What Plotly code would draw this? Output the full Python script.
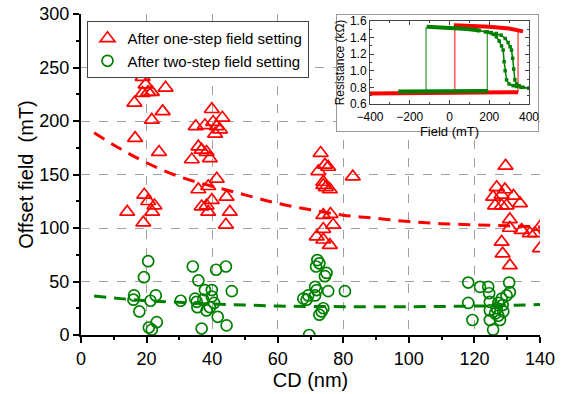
import plotly.graph_objects as go

# ---------------- main data ----------------
red_cd = [18.2, 18.8, 19.7, 18.8, 20.5, 21.6, 25.8, 16.3, 24.9, 21.6, 16.5, 23.8, 19.3, 20.5, 22.4, 14.1, 21.7, 19.0,
          39.9, 43.1, 35.0, 37.8, 40.3, 41.4, 42.4, 40.9, 35.8, 36.8, 38.3, 39.3, 33.8, 41.4, 38.8, 35.8, 44.4, 39.9,
          38.3, 36.8, 38.8, 45.4, 44.2,
          73.1, 74.4, 75.4, 72.4, 73.9, 73.9, 74.7, 75.9, 82.9, 73.9, 76.1, 76.9, 73.9, 71.9, 73.9, 75.9,
          129.5, 126.8, 129.3, 125.7, 128.3, 131.9, 126.3, 128.3, 129.8, 133.9, 130.8, 130.8, 134.4, 136.9, 138.5,
          128.3, 128.6, 130.8, 140.0, 140.0]
red_val = [244, 241, 234, 226, 227, 227, 231, 217, 209, 201, 184, 171, 131, 125, 121, 115, 115, 105,
           211, 203, 195, 196, 199, 195, 192, 188, 176, 173, 171, 165, 164, 146, 139, 136, 129, 126,
           121, 120, 115, 115, 103,
           170, 159, 157, 153, 143, 140, 138, 136, 148, 112, 113, 103, 99, 92, 89, 84,
           158, 138, 136, 129, 131, 130, 121, 121, 121, 123, 108, 100, 98, 95, 95,
           87, 76, 65, 101, 81]

green_cd = [20.5, 19.2, 16.2, 16.0, 22.8, 21.2, 17.8, 23.1, 20.7, 21.6,
            30.4, 34.1, 41.2, 44.2, 35.8, 37.8, 39.9, 34.8, 35.3, 37.3, 39.9, 40.6, 35.5, 38.3, 39.3, 46.0, 41.7, 44.4, 36.8,
            72.1, 72.7, 71.7, 74.9, 74.4, 71.4, 71.9, 75.4, 80.5, 69.3, 67.8, 68.8, 71.4, 73.9, 73.4, 72.7, 69.6,
            118.1, 118.1, 119.4, 121.7, 124.2, 124.5, 130.6, 130.8, 129.8, 128.3, 127.3, 124.7, 128.6, 126.8, 124.7,
            128.8, 127.3, 127.8, 124.7, 125.7, 126.3]
green_val = [69, 54, 37, 33, 37, 32, 22, 12, 7, 5,
             32, 64, 61, 64, 51, 42, 42, 34, 31, 33, 36, 30, 26, 23, 26, 41, 17, 9, 6,
             70, 67, 64, 58, 55, 45, 42, 41, 41, 37, 34, 33, 37, 25, 22, 19, 0,
             49, 30, 14, 45, 45, 39, 49, 40, 37, 34, 30, 31, 28, 25, 23,
             22, 18, 14, 14, 5, 20]

# fit curves
fit_cd = [4, 12, 20, 30, 40, 50, 60, 70, 80, 90, 100, 110, 120, 130, 140]
fit_red = [189, 174, 161, 148, 139, 131, 123, 117, 112, 109, 106, 104, 103, 102, 101]
fit_green = [36.5, 34, 32, 30.5, 29, 28, 27, 26.7, 26.5, 26.5, 26.5, 26.7, 27, 27.7, 28.5]

# ---------------- inset data ----------------
red_low_f = [-400, 0, 345]
red_low_r = [0.725, 0.73, 0.74]
red_high_f = [22, 100, 200, 300, 370]
red_high_r = [1.55, 1.545, 1.53, 1.51, 1.475]
red_jump_a_f = [27, 27]
red_jump_a_r = [0.75, 1.55]
red_jump_b_f = [345, 345]
red_jump_b_r = [0.74, 1.49]

green_low_f = [-258, 195]
green_low_r = [0.75, 0.755]
green_jump_a_f = [-118, -118]
green_jump_a_r = [0.75, 1.53]
green_jump_b_f = [190, 190]
green_jump_b_r = [0.755, 1.47]
green_top_f = [-115, -50, 0, 50, 100, 150]
green_top_r = [1.53, 1.525, 1.52, 1.51, 1.50, 1.485]
green_br1_f = [190, 205, 220, 236, 250, 262, 270, 275, 280, 287, 300, 320, 337, 360, 400]
green_br1_r = [1.47, 1.46, 1.44, 1.41, 1.36, 1.30, 1.25, 1.11, 1.00, 0.89, 0.84, 0.82, 0.81, 0.80, 0.79]
green_br2_f = [150, 180, 210, 236, 260, 280, 295, 305, 312, 318, 323, 329, 337, 350, 370, 400]
green_br2_r = [1.485, 1.47, 1.46, 1.45, 1.43, 1.39, 1.34, 1.29, 1.25, 1.15, 1.02, 0.89, 0.84, 0.82, 0.80, 0.79]

RED = "#ff0000"
GREEN = "#008000"
FONT = "Arial, 'Liberation Sans', sans-serif"

fig = go.Figure()

# main fits
fig.add_trace(go.Scatter(x=fit_cd, y=fit_red, mode="lines", line=dict(color=RED, width=3, dash="12px,8px", shape="spline"),
                         showlegend=False, hoverinfo="skip"))
fig.add_trace(go.Scatter(x=fit_cd, y=fit_green, mode="lines", line=dict(color=GREEN, width=3, dash="12px,8px", shape="spline"),
                         showlegend=False, hoverinfo="skip"))

# main scatter
fig.add_trace(go.Scatter(x=red_cd, y=red_val, mode="markers", name="After one-step field setting",
                         marker=dict(symbol="triangle-up-open", size=13, color=RED, line=dict(width=1.7, color=RED))))
fig.add_trace(go.Scatter(x=green_cd, y=green_val, mode="markers", name="After two-step field setting",
                         marker=dict(symbol="circle-open", size=11, color=GREEN, line=dict(width=1.7, color=GREEN))))

# inset traces
def inset(x, y, color, width, markers=False):
    fig.add_trace(go.Scatter(x=x, y=y, xaxis="x3", yaxis="y3", showlegend=False, hoverinfo="skip",
                             mode="lines+markers" if markers else "lines",
                             line=dict(color=color, width=width),
                             marker=dict(symbol="square", size=3.5, color=color)))

inset(red_jump_a_f, red_jump_a_r, RED, 1)
inset(red_jump_b_f, red_jump_b_r, RED, 1)
inset(green_jump_a_f, green_jump_a_r, GREEN, 1)
inset(green_jump_b_f, green_jump_b_r, GREEN, 1)
inset(red_low_f, red_low_r, RED, 4)
inset(red_high_f, red_high_r, RED, 4)
inset(green_low_f, green_low_r, GREEN, 4)
inset(green_top_f, green_top_r, GREEN, 4)
inset(green_br1_f, green_br1_r, GREEN, 1.5, markers=True)
inset(green_br2_f, green_br2_r, GREEN, 1.5, markers=True)

main_axis = dict(showline=True, linecolor="black", linewidth=2, ticks="outside", ticklen=6, tickwidth=1.5,
                 tickcolor="black", showgrid=True, gridcolor="#a0a0a0", griddash="dash", gridwidth=1,
                 zeroline=False, automargin=False, ticklabeloverflow="allow",
                 tickfont=dict(size=18, color="black", family=FONT))

fig.update_layout(
    width=564, height=394,
    margin=dict(l=81, r=24, t=14, b=59),
    paper_bgcolor="white", plot_bgcolor="white",
    font=dict(family=FONT, color="black"),
    xaxis=dict(range=[0, 140], dtick=20, tick0=0,
               minor=dict(dtick=10, ticks="outside", ticklen=3, tickcolor="black", showgrid=False),
               title=dict(text="CD (nm)", font=dict(size=20), standoff=3), **main_axis),
    yaxis=dict(range=[0, 300], dtick=50, tick0=0,
               minor=dict(dtick=25, ticks="outside", ticklen=3, tickcolor="black", showgrid=False),
               title=dict(text="Offset field  (mT)", font=dict(size=20), standoff=0), **main_axis),
    xaxis5=dict(overlaying="x", anchor="y", side="top", range=[0, 140], dtick=20, tick0=0,
                showline=True, linecolor="black", linewidth=2, ticks="inside", ticklen=5, tickcolor="black",
                minor=dict(dtick=10, ticks="inside", ticklen=3, tickcolor="black"),
                showticklabels=False, showgrid=False, zeroline=False, automargin=False),
    yaxis5=dict(overlaying="y", anchor="x", side="right", range=[0, 300], dtick=50, tick0=0,
                showline=True, linecolor="black", linewidth=2, ticks="inside", ticklen=5, tickcolor="black",
                minor=dict(dtick=25, ticks="inside", ticklen=3, tickcolor="black"),
                showticklabels=False, showgrid=False, zeroline=False, automargin=False),
    # white box behind the inset
    xaxis2=dict(domain=[0.5577, 0.9956], anchor="y2", range=[0, 1], showline=True, mirror=True,
                linecolor="#9a9a9a", linewidth=1, showticklabels=False, ticks="", showgrid=False, zeroline=False,
                automargin=False),
    yaxis2=dict(domain=[0.6355, 0.9969], anchor="x2", range=[0, 1], showline=True, mirror=True,
                linecolor="#9a9a9a", linewidth=1, showticklabels=False, ticks="", showgrid=False, zeroline=False,
                automargin=False),
    # inset axes
    xaxis3=dict(domain=[0.6296, 0.976], anchor="y3", range=[-400, 400], dtick=200, tick0=0,
                showline=True, mirror="ticks", linecolor="#444", linewidth=1, ticks="inside", ticklen=4,
                tickcolor="#444", minor=dict(dtick=100, ticks="inside", ticklen=2, tickcolor="#444"),
                showgrid=False, zeroline=False, automargin=False, tickfont=dict(size=12, color="black"),
                ticklabelstandoff=2,
                title=dict(text="Field (mT)", font=dict(size=13), standoff=0)),
    yaxis3=dict(domain=[0.720, 0.978], anchor="x3", range=[0.6, 1.6], dtick=0.2, tick0=0.6, tickformat=".1f",
                showline=True, mirror="ticks", linecolor="#444", linewidth=1, ticks="inside", ticklen=4,
                tickcolor="#444", minor=dict(dtick=0.1, ticks="inside", ticklen=2, tickcolor="#444"),
                showgrid=False, zeroline=False, automargin=False, tickfont=dict(size=12, color="black"),
                title=dict(text="Resistance (kΩ)", font=dict(size=12), standoff=2)),
    legend=dict(x=0.012, y=0.978, xanchor="left", yanchor="top", bgcolor="white", bordercolor="#444",
                borderwidth=1, font=dict(size=15, color="black"), tracegroupgap=0, itemwidth=30),
    showlegend=True,
)

fig.add_trace(go.Scatter(x=[None], y=[None], xaxis="x2", yaxis="y2", showlegend=False, hoverinfo="skip"))

# remove the page's default body margin so the 564x394 figure fills the window
fig.write_html("out.html", config={"displayModeBar": False},
               post_script="document.body.style.margin='0';document.body.style.overflow='hidden';")
